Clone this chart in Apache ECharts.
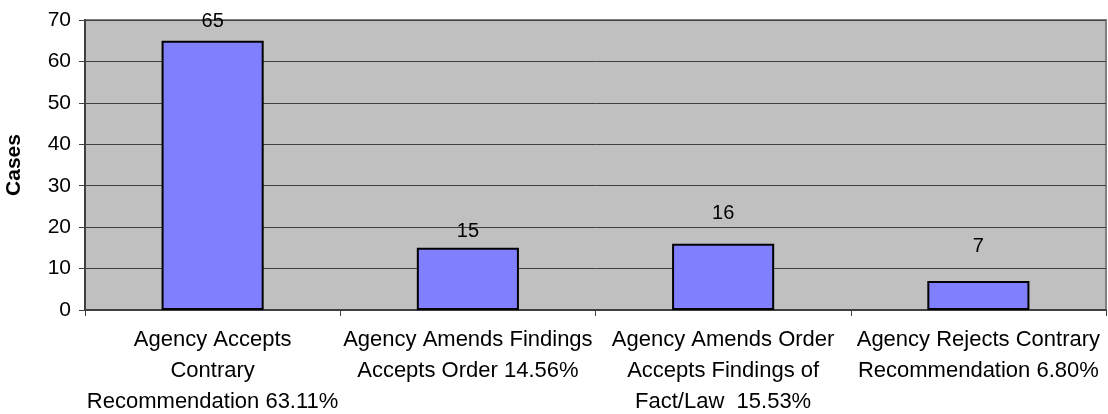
<!DOCTYPE html>
<html>
<head>
<meta charset="utf-8">
<script src="https://cdn.jsdelivr.net/npm/echarts@6/dist/echarts.min.js"></script>
<style>
  html, body { margin: 0; padding: 0; background: #fff; }
  #main { width: 1108px; height: 414px; }
</style>
</head>
<body>
<div id="main"></div>
<script>
// categories (line breaks as in the original chart)
var categories = [
	'Agency Accepts\nContrary\nRecommendation 63.11%',
	'Agency Amends Findings\nAccepts Order 14.56%',
	'Agency Amends Order\nAccepts Findings of\nFact/Law  15.53%',
	'Agency Rejects Contrary\nRecommendation 6.80%'
];
var cases = [65, 15, 16, 7];
var yTicks = { min: 0, max: 70, interval: 10 };

var font = 'Liberation Sans, Arial, sans-serif';
// label gap above each bar (excel placed them a bit unevenly)
var labelGap = [9, 6, 20, 25];

var myChart = echarts.init(document.getElementById('main'));

var barData = [];
for (var i = 0; i < cases.length; i++) {
	barData.push({
		value: cases[i],
		label: { distance: labelGap[i] }
	});
}

var option = {
	animation: false,
	backgroundColor: '#ffffff',
	grid: {
		left: 85,
		right: 2,
		top: 20,
		bottom: 104,
		outerBoundsMode: 'none',
		containLabel: false,
		show: true,
		backgroundColor: '#C0C0C0',
		borderColor: '#808080',
		borderWidth: 2
	},
	xAxis: {
		type: 'category',
		data: categories,
		axisLine: { lineStyle: { color: '#404040', width: 2 } },
		axisTick: { show: true, length: 6, lineStyle: { color: '#404040', width: 1 } },
		axisLabel: {
			interval: 0,
			margin: 14,
			color: '#000',
			fontFamily: font,
			fontSize: 22,
			lineHeight: 31
		}
	},
	yAxis: {
		type: 'value',
		min: yTicks.min,
		max: yTicks.max,
		interval: yTicks.interval,
		name: 'Cases',
		nameLocation: 'middle',
		nameRotate: 90,
		nameGap: 60,
		nameTextStyle: {
			color: '#000',
			fontFamily: font,
			fontWeight: 'bold',
			fontSize: 21
		},
		axisLine: { show: true, lineStyle: { color: '#404040', width: 2 } },
		axisTick: { show: true, length: 6, lineStyle: { color: '#404040', width: 1 } },
		axisLabel: {
			margin: 14,
			color: '#000',
			fontFamily: font,
			fontSize: 21
		},
		splitLine: { show: true, lineStyle: { color: '#404040', width: 1 } }
	},
	series: [{
		type: 'bar',
		barWidth: '40%',
		data: barData,
		itemStyle: {
			color: '#8080FF',
			borderColor: '#000000',
			borderWidth: 2
		},
		label: {
			show: true,
			position: 'top',
			color: '#000',
			fontFamily: font,
			fontSize: 20
		}
	}]
};

myChart.setOption(option);
</script>
</body>
</html>
